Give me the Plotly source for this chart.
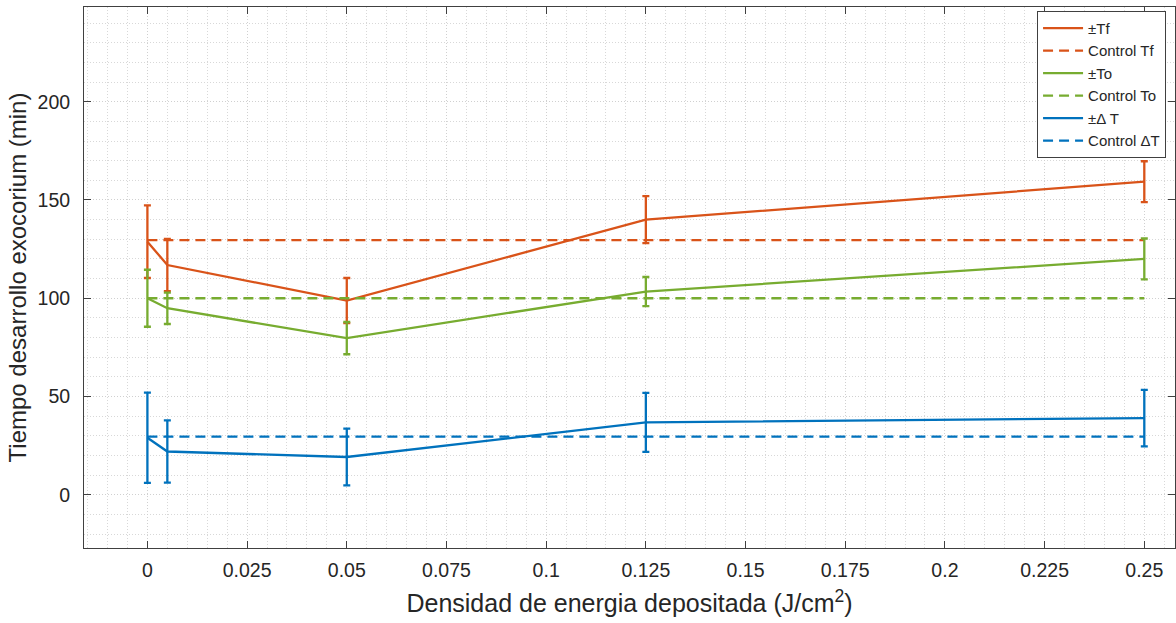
import plotly.graph_objects as go

# Data
energia = [0, 0.005, 0.05, 0.125, 0.25]
tf_vals = [128.8, 116.9, 98.8, 140.0, 159.3]
tf_err = [18.5, 13.3, 11.5, 12.0, 10.4]
to_vals = [100.0, 94.9, 79.7, 103.4, 120.0]
to_err = [14.5, 8.0, 8.2, 7.4, 10.4]
dt_vals = [29.0, 22.0, 19.2, 36.8, 39.0]
dt_err = [23.0, 15.8, 14.4, 15.0, 14.4]
control_x = [0, 0.25]
control_tf = 129.6
control_to = 100.0
control_dt = 29.6
xtick_vals = [0, 0.025, 0.05, 0.075, 0.1, 0.125, 0.15, 0.175, 0.2, 0.225, 0.25]
xtick_text = ["0", "0.025", "0.05", "0.075", "0.1", "0.125", "0.15", "0.175", "0.2", "0.225", "0.25"]

ORANGE = "#D95319"
GREEN = "#77AC30"
BLUE = "#0072BD"
FONT = "Liberation Sans, Arial, sans-serif"

fig = go.Figure()

def add_series(vals, err, name, color, ctrl, cname):
    fig.add_trace(go.Scatter(
        x=energia, y=vals, mode="lines", name=name,
        line=dict(color=color, width=2.3),
        error_y=dict(type="data", array=err, visible=True, color=color,
                     thickness=2.3, width=3.5),
    ))
    fig.add_trace(go.Scatter(
        x=control_x, y=[ctrl, ctrl], mode="lines", name=cname,
        line=dict(color=color, width=2.3, dash="10px,6px"),
    ))

add_series(tf_vals, tf_err, "±Tf", ORANGE, control_tf, "Control Tf")
add_series(to_vals, to_err, "±To", GREEN, control_to, "Control To")
add_series(dt_vals, dt_err, "±Δ T", BLUE, control_dt, "Control ΔT")

axis_common = dict(
    showline=True, linecolor="#404040", linewidth=1, mirror="ticks",
    ticks="inside", ticklen=7, tickcolor="#404040", tickwidth=1,
    showgrid=True, gridcolor="#d0d0d0", griddash="1px,2px", gridwidth=1,
    zeroline=False,
    tickfont=dict(family=FONT, size=19.5, color="#262626"),
)

fig.update_xaxes(
    range=[-0.0159, 0.2577],
    tickvals=xtick_vals, ticktext=xtick_text,
    ticklabelstandoff=5,
    minor=dict(dtick=0.005, tick0=0, showgrid=True, gridcolor="#d8d8d8",
               griddash="1px,2px", ticks=""),
    title=dict(text="Densidad de energia depositada (J/cm<sup>2</sup>)",
               font=dict(family=FONT, size=25, color="#262626"), standoff=14),
    **axis_common,
)
fig.update_yaxes(
    range=[-27.1, 248.2],
    tickvals=[0, 50, 100, 150, 200],
    ticklabelstandoff=9,
    minor=dict(dtick=10, tick0=0, showgrid=True, gridcolor="#d8d8d8",
               griddash="1px,2px", ticks=""),
    title=dict(text="Tiempo desarrollo exocorium (min)",
               font=dict(family=FONT, size=24, color="#262626"), standoff=4),
    **axis_common,
)

fig.update_layout(
    width=1176, height=623,
    margin=dict(l=84, r=1, t=7, b=75),
    paper_bgcolor="white", plot_bgcolor="white",
    showlegend=True,
    legend=dict(
        x=0.9918, y=0.993, xanchor="right", yanchor="top",
        bgcolor="white", bordercolor="#404040", borderwidth=1,
        font=dict(family=FONT, size=15, color="#262626"),
        tracegroupgap=0, itemwidth=40,
    ),
)

fig.write_html("out.html")
